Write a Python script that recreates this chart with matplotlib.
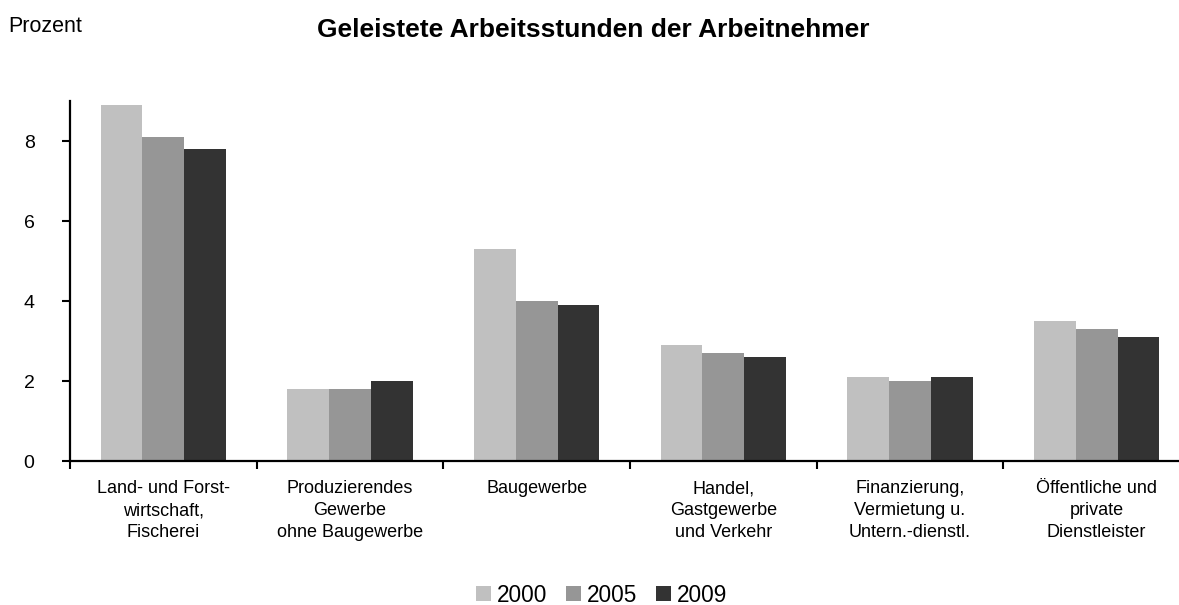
import matplotlib
matplotlib.use("Agg")
import matplotlib.pyplot as plt
import numpy as np
from matplotlib.patches import Patch

plt.rcParams['font.family'] = ['Liberation Sans', 'DejaVu Sans']

categories = ["Land- und Forst-\nwirtschaft,\nFischerei",
              "Produzierendes\nGewerbe\nohne Baugewerbe",
              "Baugewerbe",
              "Handel,\nGastgewerbe\nund Verkehr",
              "Finanzierung,\nVermietung u.\nUntern.-dienstl.",
              "Öffentliche und\nprivate\nDienstleister"]
years = ["2000", "2005", "2009"]
v2000 = [8.9, 1.8, 5.3, 2.9, 2.1, 3.5]
v2005 = [8.1, 1.8, 4.0, 2.7, 2.0, 3.3]
v2009 = [7.8, 2.0, 3.9, 2.6, 2.1, 3.1]
yticks = [0, 2, 4, 6, 8]

colors = ["#C0C0C0", "#969696", "#333333"]
series = [v2000, v2005, v2009]

W, H = 1179, 605
fig = plt.figure(figsize=(W / 100, H / 100), dpi=100)
ax = fig.add_axes([70 / W, 144 / H, 1120 / W, 360 / H])

x = np.arange(len(categories))
bw = 0.2235
for i, (vals, c) in enumerate(zip(series, colors)):
    ax.bar(x + (i - 1) * bw, vals, width=bw, color=c, label=years[i], linewidth=0)

ax.set_xlim(-0.5, len(categories) - 0.5)
ax.set_ylim(0, 9)
ax.set_yticks(yticks)
ax.set_yticklabels([str(t) for t in yticks], fontsize=14)
ax.set_xticks(x)
ax.set_xticklabels(categories, fontsize=13, linespacing=1.38, va='top')
ax.set_xticks(np.arange(len(categories) + 1) - 0.5, minor=True)
ax.tick_params(axis='x', which='major', length=0, pad=14)
ax.tick_params(axis='x', which='minor', length=6, width=1.5, direction='out')
ax.tick_params(axis='y', length=6, width=1.5, direction='out', pad=19.5)

for s in ['top', 'right']:
    ax.spines[s].set_visible(False)
for s in ['left', 'bottom']:
    ax.spines[s].set_linewidth(1.6)

fig.text(593 / W, 1 - 37 / H, "Geleistete Arbeitsstunden der Arbeitnehmer",
         ha='center', va='baseline', fontsize=19, fontweight='bold')
fig.text(8 / W, 1 - 31.5 / H, "Prozent", ha='left', va='baseline', fontsize=15.5)

handles = [Patch(facecolor=c, label=y) for c, y in zip(colors, years)]
fig.legend(handles=handles, loc='center', bbox_to_anchor=(601.5 / W, 1 - 595 / H),
           ncol=3, frameon=False, fontsize=16.3, handlelength=0.66, handleheight=0.66,
           handletextpad=0.25, columnspacing=0.85, borderpad=0.2)

fig.savefig("out.png", dpi=100)
